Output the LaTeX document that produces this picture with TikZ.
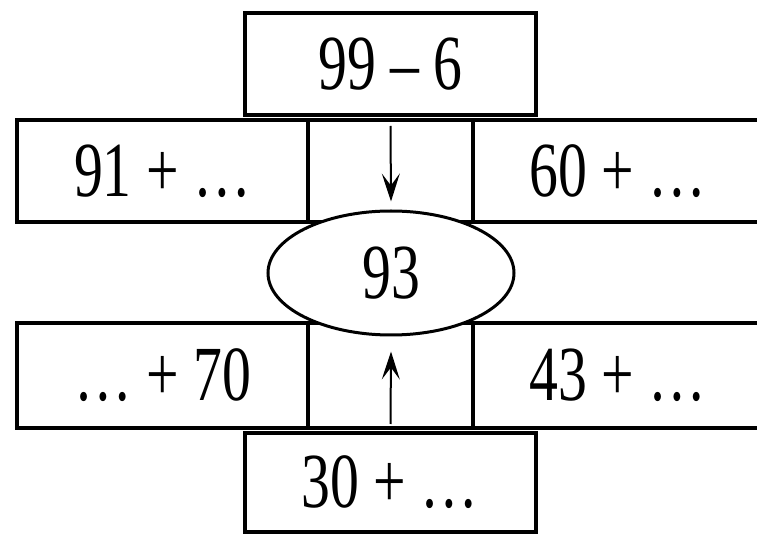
\documentclass[tikz,border=0pt]{standalone}
\usepackage{fontspec}
\setmainfont{Liberation Serif}
\newfontfamily\sumfont[FakeStretch=0.74]{Liberation Serif}
\usepackage{tikz}
\usetikzlibrary{shapes.geometric,arrows.meta}

\tikzset{
  sumbox/.style={draw, line width=2pt, fill=white, inner sep=0pt,
    minimum width=145.5pt, minimum height=51pt,
    font=\sumfont\fontsize{39}{44}\selectfont},
  midbox/.style={sumbox, minimum width=82.5pt},
  pointer/.style={line width=1pt, -{Stealth[length=14pt,width=9pt,inset=6pt]}}
}

\begin{document}
\begin{tikzpicture}[x=0.5pt, y=-0.5pt]
  \useasboundingbox (0,0) rectangle (757,535);

  %% Middle column
  \node[midbox] (midtop) at (390.5,171) {};
  \node[midbox, minimum height=52.5pt] (midbot) at (390.5,375.5) {};

  %% Upper row
  \node[sumbox] (top) at (390.5,64) {99 – 6};
  \node[sumbox] (lefttop) at (162.5,171) {91 + …};
  \node[sumbox] (righttop) at (618,171) {60 + …};

  %% Lower row
  \node[sumbox, minimum height=52.5pt] (leftbot) at (162.5,375.5) {… + 70};
  \node[sumbox, minimum height=52.5pt] (rightbot) at (618,375.5) {43 + …};
  \node[sumbox, minimum height=49.5pt] (bottom) at (390,482.5) {30 + …};

  %% Result in the centre
  \node[ellipse, draw, line width=1.5pt, fill=white, inner sep=0pt,
        minimum width=123pt, minimum height=62pt,
        font=\sumfont\fontsize{39}{44}\selectfont] (result) at (391,273) {93};

  %% Arrows towards the result
  \draw[pointer] ([yshift=-4pt]midtop.north) -- ([yshift=4pt]result.north);
  \draw[pointer] ([yshift=3pt]midbot.south) -- ([yshift=-7.5pt]result.south);
\end{tikzpicture}
\end{document}
